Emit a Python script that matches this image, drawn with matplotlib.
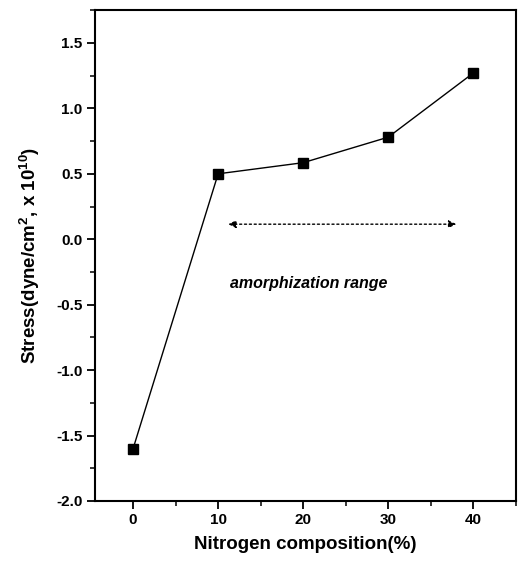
import matplotlib
matplotlib.use('Agg')
import matplotlib.pyplot as plt
from matplotlib.ticker import MultipleLocator

plt.rcParams['font.family'] = ['Liberation Sans', 'DejaVu Sans']
plt.rcParams['axes.unicode_minus'] = False
plt.rcParams['mathtext.fontset'] = 'custom'
plt.rcParams['mathtext.bf'] = 'Liberation Sans:bold'

nitrogen = [0, 10, 20, 30, 40]
stress = [-1.6, 0.5, 0.585, 0.78, 1.27]

fig = plt.figure(figsize=(5.21, 5.68), dpi=100)
ax = fig.add_axes([0.182, 0.118, 0.808, 0.864])

ax.plot(nitrogen, stress, color='black', lw=1.0, marker='s', ms=6.8, mfc='black', mec='black')

ax.annotate('', xy=(38, 0.115), xytext=(11.2, 0.115),
            arrowprops=dict(arrowstyle='<|-|>', ls=(0, (1.5, 2)), lw=1.0, color='black',
                            mutation_scale=11, shrinkA=0, shrinkB=0))
ax.text(11.4, -0.34, 'amorphization range', fontsize=11.5, fontweight='bold', style='italic', va='center')

ax.set_xlim(-4.5, 45)
ax.set_ylim(-2.0, 1.75)
ax.xaxis.set_major_locator(MultipleLocator(10))
ax.xaxis.set_minor_locator(MultipleLocator(5))
ax.yaxis.set_major_locator(MultipleLocator(0.5))
ax.yaxis.set_minor_locator(MultipleLocator(0.25))
ax.tick_params(which='major', direction='out', length=6, width=1.3, labelsize=11, pad=3)
ax.tick_params(which='minor', direction='out', length=3.5, width=1.1)
for lab in ax.get_xticklabels() + ax.get_yticklabels():
    lab.set_fontweight('bold')
for s in ax.spines.values():
    s.set_linewidth(1.5)

ax.set_xlabel('Nitrogen composition(%)', fontsize=13.5, fontweight='bold', labelpad=6)
ax.set_ylabel('Stress(dyne/cm$^\\mathbf{2}$, x 10$^\\mathbf{10}$)', fontsize=13.5, fontweight='bold', labelpad=10)

fig.savefig('out.png', dpi=100)
